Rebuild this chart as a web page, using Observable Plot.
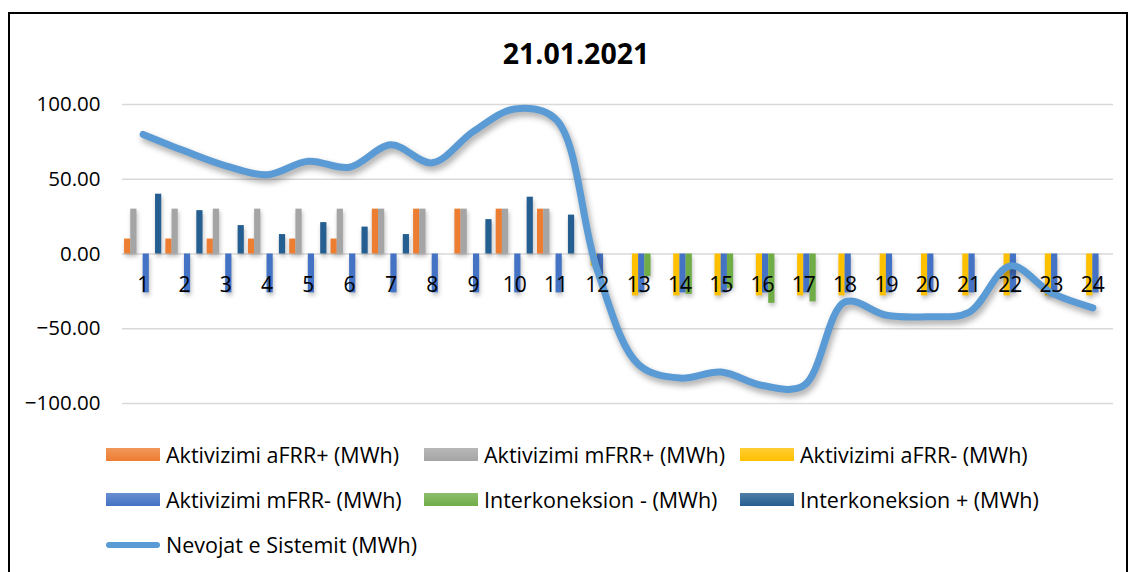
<!DOCTYPE html>
<html><head><meta charset="utf-8">
<script src="https://cdn.jsdelivr.net/npm/d3@7"></script>
<script src="https://cdn.jsdelivr.net/npm/@observablehq/plot@0.6"></script>
<style>
body{margin:0;background:#fff;width:1132px;height:572px;overflow:hidden;position:relative;font-family:"Open Sans",sans-serif;color:#000}
#frame{position:absolute;left:8px;top:12px;width:1120px;height:600px;border:2px solid #000;box-sizing:border-box}
#title{position:absolute;left:0;width:1152px;top:33px;text-align:center;font-weight:bold;font-size:28.5px;line-height:40px}
#chart{position:absolute;left:0;top:80px}
#legend{position:absolute;left:106px;top:432px;display:grid;grid-template-columns:318px 316px 318px;grid-auto-rows:45px}
.item{display:flex;align-items:center;font-size:21.5px;white-space:nowrap}
.sw{width:54px;height:13px;margin-right:6px}
.ln{width:54px;height:6px;border-radius:3px;margin-right:6px}
svg g[aria-label="line"]{filter:drop-shadow(2px 4px 3px rgba(0,0,0,0.35))}
svg g[aria-label="rect"]{filter:drop-shadow(1px 3px 2px rgba(0,0,0,0.25))}
</style></head>
<body>
<div id="frame"></div>
<div id="title">21.01.2021</div>
<div id="chart"></div>
<div id="legend"></div>
<script>
const hourLabels = ["1","2","3","4","5","6","7","8","9","10","11","12","13","14","15","16","17","18","19","20","21","22","23","24"];
const seriesNames = ["Aktivizimi aFRR+ (MWh)","Aktivizimi mFRR+ (MWh)","Aktivizimi aFRR- (MWh)","Aktivizimi mFRR- (MWh)","Interkoneksion - (MWh)","Interkoneksion + (MWh)"];
const lineName = "Nevojat e Sistemit (MWh)";
const aFRRplus   = [10,10,10,10,10,10,30,30,30,30,30,0, 0,0,0,0,0,0,0,0,0,0,0,0];
const mFRRplus   = [30,30,30,30,30,30,30,30,30,30,30,0, 0,0,0,0,0,0,0,0,0,0,0,0];
const aFRRminus  = [0,0,0,0,0,0,0,0,0,0,0,-8, -28,-28,-28,-28,-28,-28,-28,-28,-28,-28,-28,-28];
const mFRRminus  = [-26,-26,-26,-26,-26,-26,-26,-26,-26,-26,-26,-14, -26,-26,-26,-26,-26,-26,-26,-26,-26,-26,-26,-26];
const interMinus = [0,0,0,0,0,0,0,0,0,0,0,0, -15,-27,-23,-33,-32,0,0,0,0,0,0,0];
const interPlus  = [40,29,19,13,21,18,13,0,23,38,26,0, 0,0,0,0,0,0,0,0,0,0,0,0];
const nevojat    = [80,69,59,53,62,58,73,61,82,97,90,-11, -74,-83,-79,-88,-88,-32,-41,-42,-39,-8,-26,-36];
const yTicks = [-100,-50,0,50,100];

const colors = ["#ED7D31","#A5A5A5","#FFC000","#4472C4","#70AD47","#255E91"];
const lineColor = "#5B9BD5";

const seriesValues = [aFRRplus, mFRRplus, aFRRminus, mFRRminus, interMinus, interPlus];
const bars = [];
seriesValues.forEach((vals, s) => vals.forEach((v, i) => {
  if (v !== 0) bars.push({hour: i + 1, s, name: seriesNames[s], value: v});
}));
const lineData = nevojat.map((v, i) => ({hour: i + 1, value: v}));
const labelData = hourLabels.map((t, i) => ({hour: i + 1, t}));
const slot = 0.15;

const chart = Plot.plot({
  width: 1132, height: 333,
  marginLeft: 122, marginRight: 19, marginTop: 24, marginBottom: 10,
  style: {fontFamily: "'Open Sans', sans-serif", fontSize: "20px", color: "#000", background: "transparent", overflow: "visible"},
  x: {type: "linear", domain: [0.5, 24.5], axis: null},
  y: {domain: [-100, 100], axis: null, label: null},
  color: {domain: seriesNames, range: colors},
  marks: [
    Plot.gridY(yTicks, {stroke: "#d9d9d9", strokeOpacity: 1, strokeWidth: 1.5}),
    Plot.axisY(yTicks, {tickFormat: d3.format(".2f"), tickSize: 0, tickPadding: 22, fontSize: 20.5, label: null}),
    Plot.rect(bars, {
      x1: d => d.hour - 0.45 + d.s * slot,
      x2: d => d.hour - 0.45 + (d.s + 1) * slot,
      y1: 0, y2: "value", fill: "name"
    }),
    Plot.line(lineData, {x: "hour", y: "value", curve: "catmull-rom", stroke: lineColor, strokeWidth: 7, strokeLinecap: "round", strokeLinejoin: "round"}),
    Plot.text(labelData, {x: "hour", y: () => 0, text: "t", dy: 31, fontSize: 21, fill: "#000"})
  ]
});
document.getElementById("chart").appendChild(chart);

const legend = document.getElementById("legend");
seriesNames.forEach((n, i) => {
  const it = document.createElement("div"); it.className = "item";
  it.innerHTML = `<span class="sw" style="background:linear-gradient(${colors[i]}cc, ${colors[i]})"></span><span>${n}</span>`;
  legend.appendChild(it);
});
const li = document.createElement("div"); li.className = "item";
li.innerHTML = `<span class="ln" style="background:${lineColor}"></span><span>${lineName}</span>`;
legend.appendChild(li);
</script>
</body></html>
